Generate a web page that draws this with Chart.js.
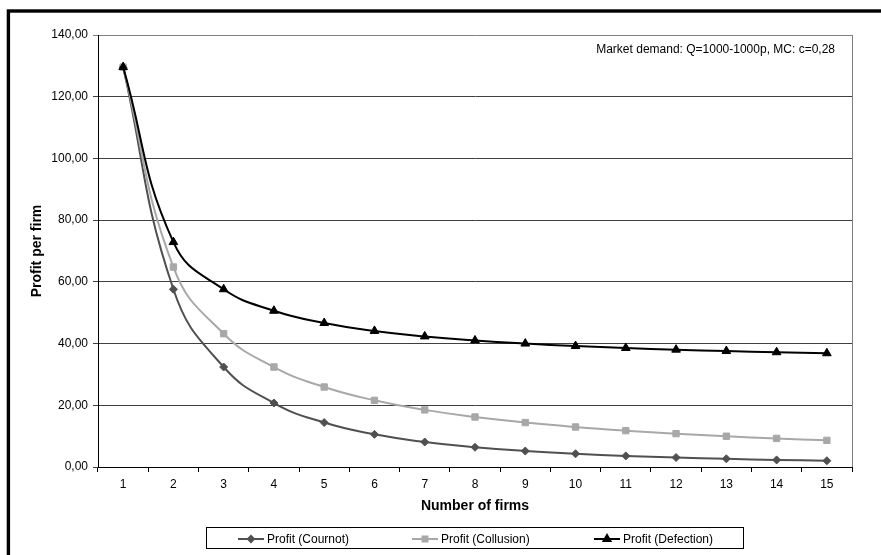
<!DOCTYPE html>
<html>
<head>
<meta charset="utf-8">
<title>Profit per firm</title>
<script src="https://cdn.jsdelivr.net/npm/chart.js@4"></script>
<style>
  body { margin: 0; background: #fff; }
</style>
</head>
<body>
<canvas id="profitChart" width="881" height="555"></canvas>
<script>
// number of firms on the x axis
const firms = ['1', '2', '3', '4', '5', '6', '7', '8', '9', '10', '11', '12', '13', '14', '15'];

// profit per firm for each market structure
const profitCournot = [129.6, 57.6, 32.4, 20.74, 14.4, 10.58, 8.1, 6.4, 5.18, 4.28, 3.6, 3.07, 2.65, 2.3, 2.03];
const profitCollusion = [129.6, 64.8, 43.2, 32.4, 25.92, 21.6, 18.51, 16.2, 14.4, 12.96, 11.78, 10.8, 9.97, 9.26, 8.64];
const profitDefection = [129.6, 72.9, 57.6, 50.63, 46.66, 44.1, 42.32, 41.01, 40.0, 39.2, 38.56, 38.03, 37.58, 37.19, 36.86];

const yTicks = [0, 20, 40, 60, 80, 100, 120, 140];
const noteText = 'Market demand: Q=1000-1000p, MC: c=0,28';
const xTitle = 'Number of firms';
const yTitle = 'Profit per firm';

const FONT = '"Liberation Sans", Arial, sans-serif';

// frame, titles, note and legend drawn around the plot
const decor = {
    id: 'decor',
    afterDraw(chart) {
        const ctx = chart.ctx;
        const area = chart.chartArea;
        ctx.save();

        // outer black frame
        ctx.strokeStyle = '#000';
        ctx.lineWidth = 3.4;
        ctx.strokeRect(8.4, 11, 900, 600);

        // right edge of plot area
        ctx.strokeStyle = '#808080';
        ctx.lineWidth = 1;
        ctx.beginPath();
        ctx.moveTo(Math.round(area.right) + 0.5, area.top);
        ctx.lineTo(Math.round(area.right) + 0.5, area.bottom);
        ctx.stroke();

        // note in the upper right corner
        ctx.fillStyle = '#000';
        ctx.font = '12px ' + FONT;
        ctx.textAlign = 'right';
        ctx.textBaseline = 'middle';
        ctx.fillText(noteText, 835, 50);

        // axis titles
        ctx.font = 'bold 14px ' + FONT;
        ctx.textAlign = 'center';
        ctx.fillText(xTitle, (area.left + area.right) / 2, 506);
        ctx.save();
        ctx.translate(37, (area.top + area.bottom) / 2);
        ctx.rotate(-Math.PI / 2);
        ctx.fillText(yTitle, 0, 0);
        ctx.restore();

        // legend box
        ctx.strokeStyle = '#000';
        ctx.lineWidth = 1;
        ctx.strokeRect(206.5, 527.5, 537, 21);
        const items = [
            { ds: chart.data.datasets[0], x: 238 },
            { ds: chart.data.datasets[1], x: 412 },
            { ds: chart.data.datasets[2], x: 594 }
        ];
        const ly = 539;
        ctx.font = '12px ' + FONT;
        ctx.textAlign = 'left';
        items.forEach(it => {
            ctx.strokeStyle = it.ds.borderColor;
            ctx.lineWidth = 2;
            ctx.beginPath();
            ctx.moveTo(it.x, ly);
            ctx.lineTo(it.x + 26, ly);
            ctx.stroke();
            ctx.fillStyle = it.ds.pointBackgroundColor;
            ctx.strokeStyle = it.ds.pointBorderColor;
            Chart.helpers.drawPoint(ctx, {
                pointStyle: it.ds.pointStyle,
                radius: it.ds.pointRadius - 1,
                borderWidth: 1,
                rotation: 0
            }, it.x + 13, ly);
            ctx.fillStyle = '#000';
            ctx.fillText(it.ds.label, it.x + 29, ly + 1);
        });

        ctx.restore();
    }
};

function series(label, data, color, style, radius, order) {
    return {
        label: label,
        data: data,
        borderColor: color,
        backgroundColor: color,
        pointBackgroundColor: color,
        pointBorderColor: color,
        pointStyle: style,
        pointRadius: radius,
        pointBorderWidth: 1,
        borderWidth: 2,
        tension: 0.45,
        fill: false,
        order: order
    };
}

new Chart(document.getElementById('profitChart'), {
    type: 'line',
    data: {
        labels: firms,
        datasets: [
            series('Profit (Cournot)', profitCournot, '#505050', 'rectRot', 4, 3),
            series('Profit (Collusion)', profitCollusion, '#a8a8a8', 'rect', 4.5, 2),
            series('Profit (Defection)', profitDefection, '#000000', 'triangle', 5, 1)
        ]
    },
    plugins: [decor],
    options: {
        responsive: false,
        animation: false,
        devicePixelRatio: 1,
        layout: {
            padding: { top: 35, right: 29, left: 0, bottom: 0 }
        },
        plugins: {
            legend: { display: false },
            tooltip: { enabled: false }
        },
        scales: {
            x: {
                offset: true,
                afterFit: s => { s.height = 88; },
                grid: {
                    offset: true,
                    drawOnChartArea: false,
                    drawTicks: true,
                    tickLength: 5,
                    color: '#000'
                },
                border: { color: '#000', width: 1 },
                ticks: {
                    color: '#000',
                    padding: 5,
                    font: { family: FONT, size: 12 }
                }
            },
            y: {
                min: 0,
                max: 140,
                afterFit: s => { s.width = 98; },
                afterBuildTicks: s => { s.ticks = yTicks.map(v => ({ value: v })); },
                grid: {
                    color: ctx => (ctx.tick && ctx.tick.value === 140) ? '#808080' : '#404040',
                    tickLength: 5,
                    drawTicks: true
                },
                border: { color: '#000', width: 1 },
                ticks: {
                    color: '#000',
                    padding: 5,
                    font: { family: FONT, size: 12 },
                    callback: v => v.toFixed(2).replace('.', ',')
                }
            }
        }
    }
});
</script>
</body>
</html>
